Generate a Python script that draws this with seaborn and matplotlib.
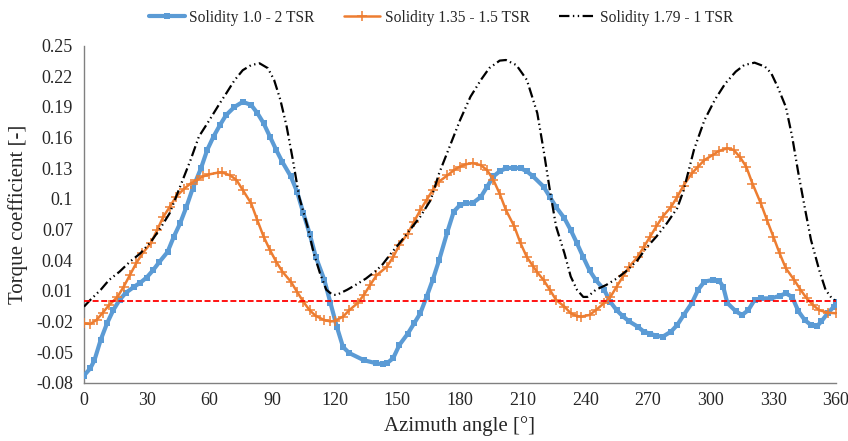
import matplotlib
matplotlib.use("Agg")
import matplotlib.pyplot as plt
import seaborn as sns

# Torque coefficient vs azimuth angle for three rotor configurations
angle_s10 = [0, 3, 5, 8, 11, 14, 17, 20, 24, 27, 30, 33, 36, 40, 43, 46, 49, 52, 56, 59,
             62, 65, 68, 72, 76, 80, 83, 86, 89, 92, 95, 99, 102, 105, 108, 111, 115, 118,
             121, 124, 127, 134, 140, 143, 145, 148, 151, 155, 158, 161, 164, 167, 170, 174,
             177, 180, 183, 186, 190, 193, 196, 199, 202, 206, 209, 212, 215, 220, 223, 226,
             230, 233, 236, 239, 242, 245, 249, 252, 255, 258, 261, 265, 268, 271, 274, 277,
             281, 284, 287, 291, 294, 297, 301, 304, 306, 308, 312, 315, 318, 321, 324, 329,
             333, 336, 339, 342, 345, 348, 351, 353, 356, 359, 360]
cq_s10 = [-0.073, -0.066, -0.058, -0.038, -0.022, -0.009, 0.001, 0.008, 0.014, 0.018,
          0.023, 0.030, 0.038, 0.048, 0.063, 0.076, 0.092, 0.110, 0.130, 0.148,
          0.161, 0.172, 0.182, 0.190, 0.195, 0.192, 0.184, 0.174, 0.161, 0.148,
          0.136, 0.122, 0.107, 0.086, 0.066, 0.043, 0.021, -0.002, -0.025, -0.045,
          -0.051, -0.058, -0.061, -0.062, -0.061, -0.056, -0.043, -0.032, -0.022, -0.012,
          0.004, 0.021, 0.040, 0.068, 0.0875, 0.094, 0.0957, 0.0957, 0.102, 0.112,
          0.122, 0.127, 0.130, 0.1306, 0.130, 0.127, 0.122, 0.112, 0.102, 0.092,
          0.081, 0.0695, 0.0565, 0.043, 0.030, 0.0206, 0.011, -0.001, -0.009, -0.015,
          -0.020, -0.025, -0.030, -0.032, -0.034, -0.035, -0.030, -0.0235, -0.014, -0.002,
          0.011, 0.019, 0.0206, 0.020, 0.014, -0.002, -0.010, -0.0137, -0.009, 0.001,
          0.0026, 0.0026, 0.005, 0.0075, 0.004, -0.010, -0.0186, -0.0235, -0.0245, -0.020,
          -0.012, -0.0055, -0.001]

angle_s135 = [0, 3, 6, 9, 12, 16, 19, 22, 25, 28, 32, 35, 38, 41, 44, 48, 51, 54, 57, 60,
              64, 66, 70, 73, 76, 80, 83, 86, 89, 92, 95, 99, 102, 105, 108, 111, 115, 118,
              120, 124, 127, 131, 134, 137, 140, 145, 148, 151, 155, 158, 161, 164, 167, 170,
              174, 177, 180, 183, 186, 190, 193, 196, 199, 202, 206, 209, 212, 215, 217, 220,
              223, 226, 230, 233, 236, 238, 242, 245, 249, 252, 255, 258, 261, 265, 268, 271,
              274, 277, 281, 284, 287, 291, 294, 297, 301, 304, 308, 311, 314, 317, 320, 324,
              327, 330, 333, 336, 340, 343, 346, 349, 352, 356, 360]
cq_s135 = [-0.022, -0.0225, -0.0186, -0.0114, -0.004, 0.004, 0.014, 0.0255, 0.037, 0.0467,
           0.0565, 0.0695, 0.0826, 0.092, 0.102, 0.110, 0.115, 0.1185, 0.122, 0.124,
           0.1257, 0.126, 0.123, 0.1185, 0.1087, 0.0957, 0.079, 0.063, 0.050, 0.0385,
           0.0287, 0.019, 0.009, -0.0007, -0.009, -0.0147, -0.0186, -0.020, -0.0196, -0.0153,
           -0.009, -0.002, 0.006, 0.0157, 0.025, 0.0336, 0.043, 0.055, 0.066, 0.0777,
           0.089, 0.099, 0.1087, 0.117, 0.123, 0.128, 0.1316, 0.134, 0.135, 0.133,
           0.128, 0.1185, 0.105, 0.089, 0.073, 0.0565, 0.043, 0.034, 0.028, 0.0206,
           0.011, 0.001, -0.0055, -0.012, -0.0147, -0.0153, -0.0137, -0.009, -0.002, 0.004,
           0.014, 0.024, 0.0336, 0.043, 0.053, 0.063, 0.073, 0.0826, 0.092, 0.102,
           0.113, 0.125, 0.1316, 0.138, 0.143, 0.147, 0.1495, 0.148, 0.141, 0.1316,
           0.115, 0.0957, 0.079, 0.063, 0.0467, 0.032, 0.0206, 0.011, 0.0026, -0.004,
           -0.009, -0.0114, -0.012]

angle_s179 = [0, 3, 8, 12, 17, 22, 27, 32, 36, 41, 46, 51, 55, 60, 65, 68, 72, 76, 80, 84,
              88, 91, 94, 97, 100, 103, 107, 110, 113, 116, 119, 121, 126, 130, 135, 140, 143,
              147, 151, 156, 161, 166, 170, 175, 180, 185, 190, 194, 199, 202, 207, 212, 215,
              217, 220, 223, 226, 230, 233, 236, 239, 241, 245, 250, 255, 260, 265, 269, 274,
              279, 284, 287, 292, 297, 302, 307, 312, 316, 321, 326, 329, 332, 336, 339, 342,
              345, 348, 352, 355, 358, 360]
cq_s179 = [-0.0055, 0.001, 0.011, 0.0206, 0.0287, 0.0385, 0.0467, 0.058, 0.0695, 0.0859,
           0.112, 0.138, 0.161, 0.177, 0.1936, 0.203, 0.216, 0.226, 0.231, 0.2328,
           0.228, 0.2165, 0.197, 0.171, 0.138, 0.102, 0.073, 0.0467, 0.027, 0.011,
           0.006, 0.006, 0.011, 0.0157, 0.022, 0.030, 0.036, 0.0467, 0.0565, 0.0695,
           0.0826, 0.099, 0.125, 0.151, 0.177, 0.200, 0.2165, 0.228, 0.2354, 0.236,
           0.231, 0.2165, 0.197, 0.184, 0.148, 0.1087, 0.073, 0.0467, 0.024, 0.011,
           0.004, 0.004, 0.011, 0.0157, 0.022, 0.030, 0.040, 0.0516, 0.063, 0.076,
           0.091, 0.108, 0.148, 0.177, 0.197, 0.213, 0.2246, 0.231, 0.2334, 0.2295,
           0.223, 0.210, 0.190, 0.161, 0.125, 0.092, 0.060, 0.030, 0.011, 0.0026,
           0.000]

series_labels = ["Solidity 1.0 - 2 TSR", "Solidity 1.35 - 1.5 TSR", "Solidity 1.79 - 1 TSR"]
x_ticks = [0, 30, 60, 90, 120, 150, 180, 210, 240, 270, 300, 330, 360]
y_ticks = [-0.08, -0.05, -0.02, 0.01, 0.04, 0.07, 0.10, 0.13, 0.16, 0.19, 0.22, 0.25]
y_tick_labels = ["-0.08", "-0.05", "-0.02", "0.01", "0.04", "0.07", "0.1", "0.13",
                 "0.16", "0.19", "0.22", "0.25"]

sns.set_theme(style="white")
plt.rcParams["font.family"] = ["Liberation Serif", "DejaVu Serif"]
plt.rcParams["lines.scale_dashes"] = False

fig = plt.figure(figsize=(8.48, 4.41), dpi=100)
ax = fig.add_axes([84 / 848, 1 - 382.7 / 441, 752 / 848, 337 / 441])

blue, orange = "#5B9BD5", "#ED7D31"

sns.lineplot(x=angle_s10, y=cq_s10, ax=ax, color=blue, lw=3.0, marker="s",
             markersize=4.2, markeredgewidth=0, markerfacecolor=blue,
             sort=False, estimator=None, label=series_labels[0], zorder=3)
sns.lineplot(x=angle_s135, y=cq_s135, ax=ax, color=orange, lw=1.8, marker="+",
             markersize=6.5, markeredgewidth=1.1, markeredgecolor=orange,
             sort=False, estimator=None, label=series_labels[1], zorder=4)
sns.lineplot(x=angle_s179, y=cq_s179, ax=ax, color="black", lw=1.6,
             sort=False, estimator=None, label=series_labels[2], zorder=5)
ax.lines[-1].set_linestyle((0, (7.5, 2.5, 1, 2.5, 1, 2.5)))

ax.axhline(0, color="#FF0000", lw=1.3, ls=(0, (4.3, 1.9)), zorder=6)

ax.set_xlim(0, 360)
ax.set_ylim(-0.08, 0.25)
ax.set_xticks(x_ticks)
ax.set_xticklabels([str(t) for t in x_ticks])
ax.set_yticks(y_ticks)
ax.set_yticklabels(y_tick_labels)

for side in ("top", "right"):
    ax.spines[side].set_visible(False)
for side in ("left", "bottom"):
    ax.spines[side].set_color("#808080")
    ax.spines[side].set_linewidth(1.0)
ax.tick_params(axis="both", direction="out", length=4, width=1.0, color="#808080",
               labelsize=13, labelcolor="#262626", pad=3)
ax.tick_params(axis="y", pad=4)

ax.set_xlabel("Azimuth angle [°]", fontsize=15, color="#262626", labelpad=5)
ax.set_ylabel("Torque coefficient [-]", fontsize=15, color="#262626", labelpad=6)

handles, labels = ax.get_legend_handles_labels()
ax.get_legend().remove()
fig.legend(handles, labels, loc="upper center", bbox_to_anchor=(0.52, 1.01), ncol=3,
           frameon=False, fontsize=11.2, handlelength=2.3, columnspacing=1.9,
           handletextpad=0.3, labelcolor="#262626")

fig.savefig("out.png", dpi=100)
